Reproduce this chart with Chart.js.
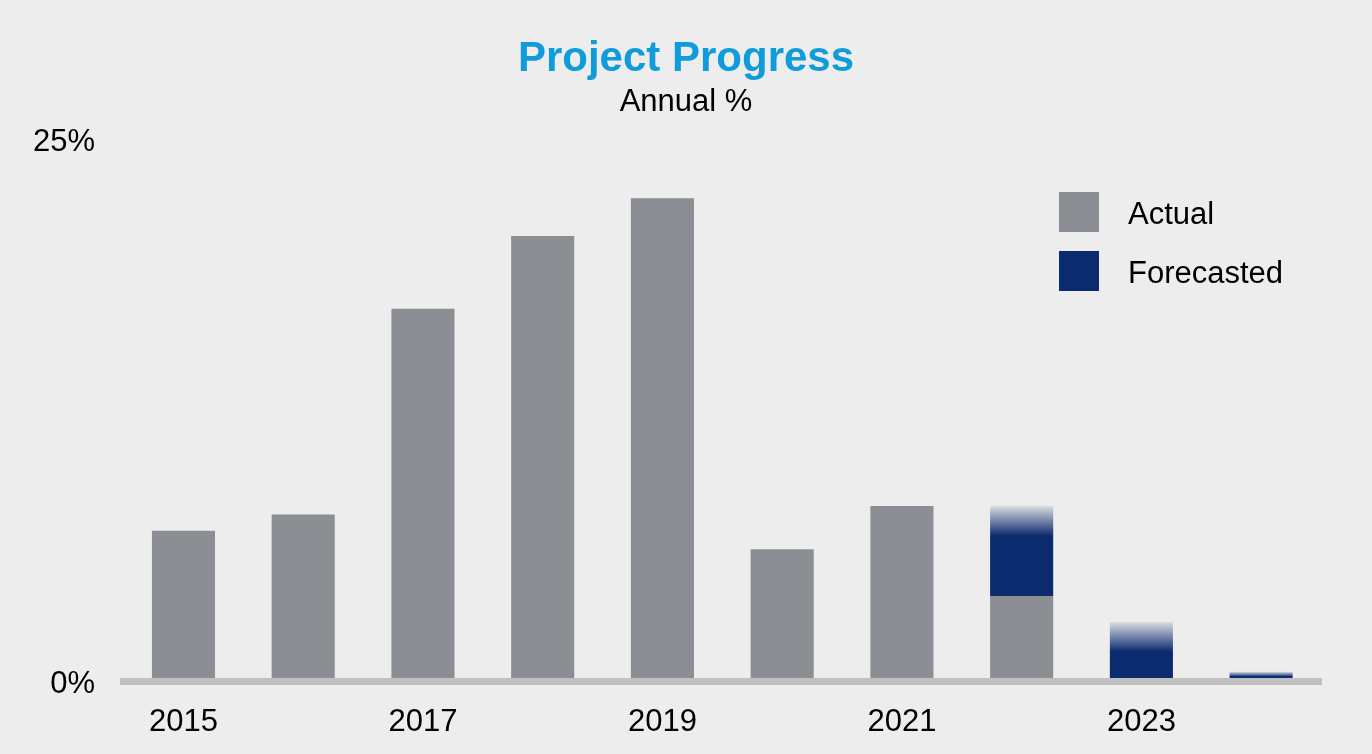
<!DOCTYPE html>
<html>
<head>
<meta charset="utf-8">
<title>Project Progress</title>
<script src="https://cdn.jsdelivr.net/npm/chart.js@4.4.0/dist/chart.umd.min.js"></script>
<style>
  body { margin: 0; background: #ededed; }
  #wrap { width: 1372px; height: 754px; }
</style>
</head>
<body>
<div id="wrap"><canvas id="progressChart" width="1372" height="754"></canvas></div>
<script>
// Données du graphique
var years = ['2015', '2016', '2017', '2018', '2019', '2020', '2021', '2022', '2023', '2024'];
var actual = [6.95, 7.7, 17.2, 20.55, 22.3, 6.1, 8.1, 3.95, 0, 0];
var forecasted = [0, 0, 0, 0, 0, 0, 0, 4.15, 2.75, 0.45];
var yTicks = [0, 25];

var grayBar = '#8b8e92';
var navyBar = '#0b2b6e';
var fontFamily = '"Liberation Sans", Arial, sans-serif';

// dégradé en haut des barres prévues
function forecastColor(ctx) {
  var chart = ctx.chart;
  if (!chart.chartArea || ctx.type !== 'data') return navyBar;
  var i = ctx.dataIndex;
  var y = chart.scales.y;
  var top = y.getPixelForValue(actual[i] + forecasted[i]);
  var bottom = y.getPixelForValue(actual[i]);
  if (!isFinite(top) || !isFinite(bottom) || bottom - top < 1) return navyBar;
  var g = chart.ctx.createLinearGradient(0, top, 0, bottom);
  g.addColorStop(0, 'rgba(11,43,110,0.08)');
  g.addColorStop(Math.min(0.5, 30 / (bottom - top)), 'rgba(11,43,110,1)');
  g.addColorStop(1, 'rgba(11,43,110,1)');
  return g;
}

// titre centré sur toute la largeur du canvas
var centerTitles = {
  id: 'centerTitles',
  afterLayout: function(chart) {
    chart.boxes.forEach(function(box) {
      if (box.position === 'top' && box.options && box.options.text) {
        box.left = 0;
        box.right = chart.width;
        box.width = chart.width;
      }
    });
  }
};

// légende dessinée à droite, dans la zone du graphique
var sideLegend = {
  id: 'sideLegend',
  afterDraw: function(chart) {
    var c = chart.ctx;
    var x = chart.chartArea.right - 262;
    var y = 192;
    c.save();
    c.font = '31px ' + fontFamily;
    c.textBaseline = 'middle';
    c.textAlign = 'left';
    chart.data.datasets.forEach(function(ds, i) {
      c.fillStyle = ds.legendColor;
      c.fillRect(x, y + i * 59, 40, 40);
      c.fillStyle = '#000';
      c.fillText(ds.label, x + 69, y + i * 59 + 23);
    });
    c.restore();
  }
};

var ctx = document.getElementById('progressChart').getContext('2d');
var progressChart = new Chart(ctx, {
  type: 'bar',
  data: {
    labels: years,
    datasets: [{
      label: 'Actual',
      data: actual,
      backgroundColor: grayBar,
      legendColor: grayBar,
      barPercentage: 0.527,
      categoryPercentage: 1
    }, {
      label: 'Forecasted',
      data: forecasted,
      backgroundColor: forecastColor,
      legendColor: navyBar,
      barPercentage: 0.527,
      categoryPercentage: 1
    }]
  },
  options: {
    responsive: false,
    animation: false,
    layout: { padding: { top: 16, right: 51, bottom: 0, left: 0 } },
    plugins: {
      legend: { display: false },
      tooltip: { enabled: false },
      title: {
        display: true,
        text: 'Project Progress',
        color: '#109cda',
        font: { family: fontFamily, size: 42, weight: 'bold' },
        padding: { top: 18, bottom: 0 }
      },
      subtitle: {
        display: true,
        text: 'Annual %',
        color: '#000',
        font: { family: fontFamily, size: 31 },
        padding: { top: -1, bottom: 19 }
      }
    },
    scales: {
      x: {
        stacked: true,
        grid: { display: false, drawTicks: false },
        border: { display: true, color: '#c0c0c0', width: 7, z: 1 },
        ticks: {
          autoSkip: false,
          maxRotation: 0,
          padding: 22,
          color: '#000',
          font: { family: fontFamily, size: 31 },
          callback: function(value, index) {
            return index % 2 === 0 ? years[index] : '';
          }
        },
        afterFit: function(scale) { scale.height = 72.5; }
      },
      y: {
        stacked: true,
        min: 0,
        max: 25,
        grid: { display: false, drawTicks: false },
        border: { display: false },
        afterBuildTicks: function(scale) {
          scale.ticks = yTicks.map(function(v) { return { value: v }; });
        },
        ticks: {
          padding: 28.5,
          labelOffset: 3,
          color: '#000',
          font: { family: fontFamily, size: 31 },
          callback: function(value) { return value + '%'; }
        },
        afterFit: function(scale) { scale.width = 123.6; }
      }
    }
  },
  plugins: [centerTitles, sideLegend]
});
</script>
</body>
</html>
